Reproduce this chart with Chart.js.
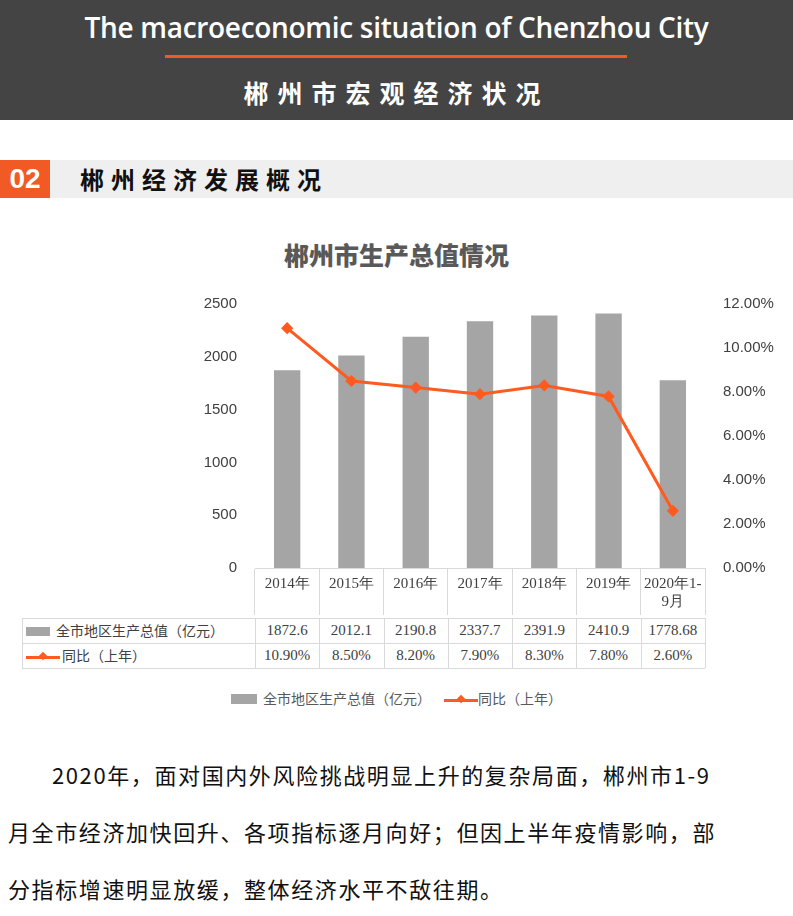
<!DOCTYPE html>
<html><head><meta charset="utf-8">
<script src="https://cdn.jsdelivr.net/npm/chart.js@4"></script>
<style>
body{margin:0;width:793px;height:916px;background:#fff;font-family:"Noto Sans CJK SC","Noto Sans",sans-serif;position:relative;overflow:hidden}
.abs{position:absolute}
#hdr{left:0;top:0;width:793px;height:120px;background:#444}
#t1{left:0;width:793px;top:8px;text-align:center;color:#fff;font-size:28px;font-weight:600;font-family:"Open Sans","Noto Sans",sans-serif;letter-spacing:-0.3px}
#ol{left:165px;top:55px;width:462px;height:3px;background:#f15a24}
#t2{left:0;width:793px;top:74px;text-align:center;color:#fff;font-size:25px;font-weight:bold;letter-spacing:9px}
#sec{left:0;top:160px;width:793px;height:38px;background:#efefef}
#num{left:0;top:160px;width:50px;height:38px;background:#f15a24;color:#fff;font-size:28px;font-weight:bold;line-height:38px;text-align:center;font-family:"Liberation Sans",sans-serif}
#st{left:80px;top:160px;line-height:38px;font-size:24px;font-weight:bold;letter-spacing:7px;color:#111}
#ct{left:0;width:793px;top:236px;text-align:center;font-size:25px;font-weight:900;color:#595959}
.c{position:absolute;font-size:15px;color:#404040;text-align:center;line-height:25px;font-family:"Liberation Serif","Noto Sans CJK SC",serif}
.hl{position:absolute;height:1px;background:#d9d9d9}
.vl{position:absolute;width:1px;background:#d9d9d9}
#para{left:8px;top:746px;width:780px;font-size:22px;line-height:57px;color:#111;text-indent:44px;letter-spacing:1.6px}
</style></head><body>
<div id="hdr" class="abs"></div>
<div id="t1" class="abs">The macroeconomic situation of Chenzhou City</div>
<div id="ol" class="abs"></div>
<div id="t2" class="abs">郴州市宏观经济状况</div>
<div id="sec" class="abs"></div>
<div id="num" class="abs">02</div>
<div id="st" class="abs">郴州经济发展概况</div>
<div id="ct" class="abs">郴州市生产总值情况</div>
<canvas id="c" class="abs" style="left:0;top:285px"></canvas>
<div id="tbl"></div>
<div id="para" class="abs">2020年，面对国内外风险挑战明显上升的复杂局面，郴州市1-9<br>月全市经济加快回升、各项指标逐月向好；但因上半年疫情影响，部<br>分指标增速明显放缓，整体经济水平不敌往期。</div>
<script>
const years=["2014年","2015年","2016年","2017年","2018年","2019年",["2020年1-","9月"]];
const gdp=[1872.6,2012.1,2190.8,2337.7,2391.9,2410.9,1778.68];
const growth=[10.9,8.5,8.2,7.9,8.3,7.8,2.6];
const gdpLabel="全市地区生产总值（亿元）";
const growthLabel="同比（上年）";
const gray="#a5a5a5",orange="#ff5a1f";

const cv=document.getElementById("c");
cv.width=793;cv.height=330;cv.style.width="793px";cv.style.height="330px";
new Chart(cv,{
  data:{labels:years,datasets:[
    {type:"line",label:growthLabel,data:growth,yAxisID:"y1",borderColor:orange,backgroundColor:orange,borderWidth:3,pointStyle:"rectRot",pointRadius:4,order:0},
    {type:"bar",label:gdpLabel,data:gdp,yAxisID:"y",backgroundColor:gray,barPercentage:0.41,categoryPercentage:1,order:1}
  ]},
  options:{responsive:false,animation:false,layout:{padding:{top:2}},
    plugins:{legend:{display:false},tooltip:{enabled:false}},
    scales:{
      x:{grid:{display:true,drawOnChartArea:false,tickLength:47,color:"#d9d9d9"},border:{color:"#d9d9d9"},
         ticks:{color:"#404040",font:{size:15,family:"Liberation Serif"},padding:-40,maxRotation:0},
         afterFit:s=>{s.height=47}},
      y:{min:0,max:2500,ticks:{stepSize:500,color:"#404040",font:{size:15,family:"Liberation Sans"},padding:10,callback:v=>String(v)},grid:{display:false},border:{display:false},afterFit:s=>{s.width=255}},
      y1:{position:"right",min:0,max:12,ticks:{stepSize:2,color:"#404040",font:{size:15,family:"Liberation Sans"},padding:10,callback:v=>v.toFixed(2)+"%"},grid:{display:false},border:{display:false},afterFit:s=>{s.width=88}}
    }}
});

// data table under the axis
const tb=document.getElementById("tbl");
const x0=255,cw=(705-255)/7;
let h="";
[[gdpLabel,gdp.map(String),618,"bar"],[growthLabel,growth.map(v=>v.toFixed(2)+"%"),643,"line"]].forEach(([lab,vals,y,k])=>{
  let key=k=="bar"?`<span style="display:inline-block;width:24px;height:9px;background:${gray};margin-right:6px"></span>`
    :`<span style="display:inline-block;width:34px;height:3px;background:${orange};vertical-align:middle;position:relative;margin-right:2px"><span style="position:absolute;left:14px;top:-3px;width:6px;height:6px;background:${orange};transform:rotate(45deg)"></span></span>`;
  h+=`<div class="c" style="left:26px;top:${y}px;width:229px;text-align:left;font-family:'Noto Sans CJK SC';font-size:14px">${key}${lab}</div>`;
  vals.forEach((v,i)=>{h+=`<div class="c" style="left:${x0+i*cw}px;top:${y}px;width:${cw}px">${v}</div>`});
});
h+=`<div class="hl" style="left:22px;top:618px;width:683px"></div><div class="hl" style="left:22px;top:643px;width:683px"></div><div class="hl" style="left:22px;top:668px;width:683px"></div>`;
h+=`<div class="vl" style="left:22px;top:618px;height:50px"></div>`;
for(let i=0;i<=7;i++)h+=`<div class="vl" style="left:${Math.round(x0+i*cw)}px;top:618px;height:50px"></div>`;
h+=`<div class="abs" style="left:0;width:793px;top:688px;text-align:center;font-size:14px;color:#595959">
<span style="display:inline-block;width:26px;height:10px;background:${gray};margin-right:6px"></span>${gdpLabel}
<span style="display:inline-block;width:34px;height:3px;background:${orange};vertical-align:middle;margin-left:10px;position:relative"><span style="position:absolute;left:14px;top:-3px;width:6px;height:6px;background:${orange};transform:rotate(45deg)"></span></span>${growthLabel}</div>`;
tb.innerHTML=h;
</script>
</body></html>
